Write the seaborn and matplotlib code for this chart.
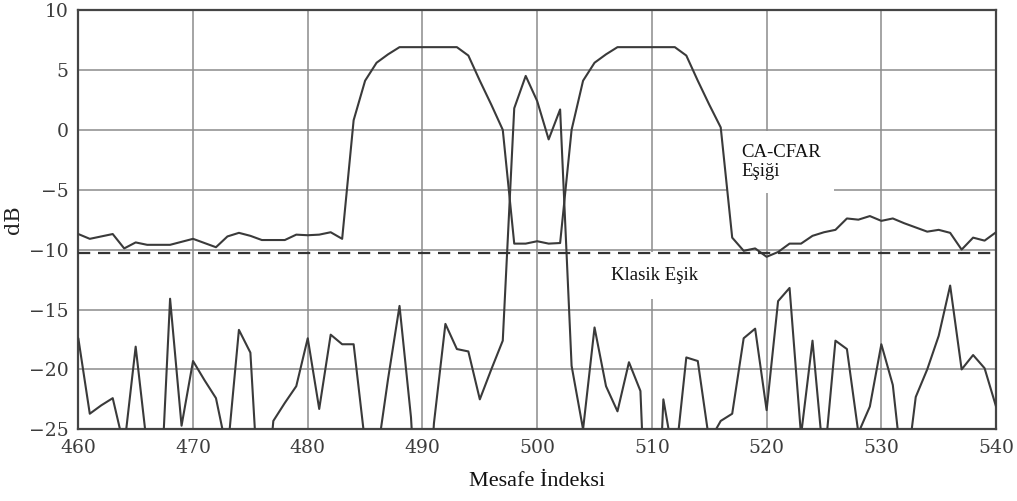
import matplotlib
matplotlib.use("Agg")
import matplotlib.pyplot as plt
import seaborn as sns
import numpy as np
import pandas as pd

# ---- data ----
range_index = list(range(460, 541))
signal_db = [
    -17.4, -23.7, -23.0, -22.4, -26.5, -18.1, -26.5, -34.0, -14.1, -24.7,
    -19.3, -20.9, -22.4, -27.0, -16.7, -18.6, -35.0, -24.3, -22.8, -21.4,
    -17.4, -23.3, -17.1, -17.9, -17.9, -26.2, -27.5, -20.8, -14.7, -24.0,
    -40.0, -24.5, -16.2, -18.3, -18.5, -22.5, -20.0, -17.6, 1.8, 4.5,
    2.4, -0.8, 1.7, -19.7, -25.0, -16.5, -21.4, -23.5, -19.4, -21.8,
    -45.0, -22.5, -28.0, -19.0, -19.3, -26.0, -24.3, -23.7, -17.4, -16.6,
    -23.4, -14.3, -13.2, -25.5, -17.6, -28.0, -17.6, -18.3, -25.3, -23.1,
    -17.9, -21.3, -30.0, -22.3, -20.0, -17.2, -13.0, -20.0, -18.8, -19.9,
    -23.1,
]
cfar_db = [
    -8.7, -9.1, -8.9, -8.7, -9.9, -9.4, -9.6, -9.6, -9.6, -9.35,
    -9.1, -9.45, -9.8, -8.9, -8.6, -8.85, -9.2, -9.2, -9.2, -8.75,
    -8.8, -8.75, -8.55, -9.1, 0.8, 4.1, 5.6, 6.3, 6.9, 6.9,
    6.9, 6.9, 6.9, 6.9, 6.2, 4.1, 2.1, 0.0, -9.5, -9.5,
    -9.3, -9.5, -9.45, 0.0, 4.1, 5.6, 6.3, 6.9, 6.9, 6.9,
    6.9, 6.9, 6.9, 6.2, 4.1, 2.1, 0.2, -9.0, -10.1, -9.9,
    -10.6, -10.2, -9.5, -9.5, -8.85, -8.55, -8.35, -7.4, -7.5, -7.2,
    -7.6, -7.4, -7.8, -8.15, -8.5, -8.35, -8.6, -10.0, -9.0, -9.25,
    -8.55,
]
classic_threshold_db = -10.25
x_ticks = [460, 470, 480, 490, 500, 510, 520, 530, 540]
y_ticks = [-25, -20, -15, -10, -5, 0, 5, 10]
labels = {"cfar": "CA-CFAR\nEşiği", "classic": "Klasik Eşik",
          "xlabel": "Mesafe İndeksi", "ylabel": "dB"}

df = pd.DataFrame({"idx": range_index, "signal": signal_db, "cfar": cfar_db})

# ---- style ----
sns.set_style("white")
plt.rcParams["font.family"] = ["DejaVu Serif"]
plt.rcParams["axes.unicode_minus"] = True

fig = plt.figure(figsize=(10.17, 5.01), dpi=100)
ax = fig.add_axes([0.077, 0.1431, 0.9794 - 0.077, 0.98 - 0.1431])

line_col = "#3a3a3a"
sns.lineplot(data=df, x="idx", y="signal", ax=ax, color=line_col, linewidth=1.5, zorder=4)
sns.lineplot(data=df, x="idx", y="cfar", ax=ax, color=line_col, linewidth=1.5, zorder=4)
ax.axhline(classic_threshold_db, color="#333333", linewidth=1.6,
           linestyle=(0, (5.5, 3.5)), zorder=4)

ax.set_xlim(460, 540)
ax.set_ylim(-25, 10)
ax.set_xticks(x_ticks)
ax.set_yticks(y_ticks)
ax.grid(True, color="#8c8c8c", linewidth=1.1, zorder=0)
ax.set_axisbelow(True)
for s in ax.spines.values():
    s.set_color("#444444")
    s.set_linewidth(1.6)
ax.tick_params(length=0, pad=7, labelsize=13.5, labelcolor="#3c3c3c")

ax.set_xlabel(labels["xlabel"], fontsize=16, family=["Liberation Serif"], labelpad=11, color="#111111")
ax.set_ylabel(labels["ylabel"], fontsize=15, labelpad=4, color="#222222")

ax.text(517.8, -2.7, labels["cfar"], fontsize=13.5, family=["Liberation Serif"],
        ha="left", va="center", linespacing=1.15, zorder=3, color="#111111",
        bbox=dict(boxstyle="square,pad=0.7", facecolor="white", edgecolor="none"))
ax.text(506.4, -12.2, labels["classic"], fontsize=13.5, family=["Liberation Serif"],
        ha="left", va="center", zorder=3, color="#111111",
        bbox=dict(boxstyle="square,pad=0.8", facecolor="white", edgecolor="none"))

fig.savefig("out.png", dpi=100, facecolor="white")
